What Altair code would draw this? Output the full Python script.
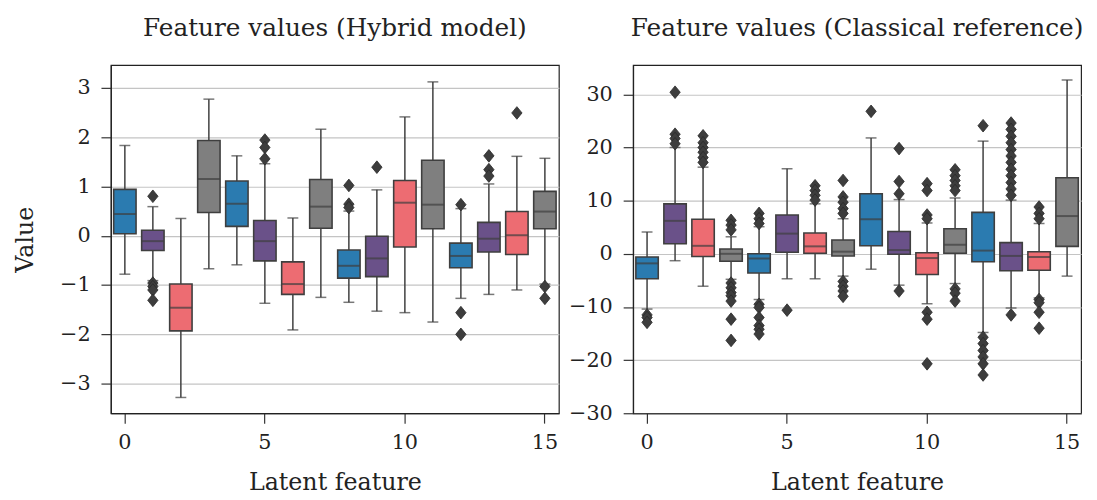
import altair as alt
import pandas as pd

FONT = "DejaVu Serif"
PALETTE = ["#2b7bb0", "#6a5189", "#ed6c72", "#7f7f7f"]
EDGE = "#3f3f3f"

features = list(range(16))

# Hybrid model: lower whisker, q1, median, q3, upper whisker
hyb_lo = [-0.78, -0.91, -3.28, -0.67, -0.59, -1.37, -1.91, -1.25, -1.35, -1.53, -1.56, -1.75, -1.27, -1.19, -1.10, -0.98]
hyb_q1 = [0.04, -0.30, -1.93, 0.47, 0.19, -0.51, -1.19, 0.15, -0.86, -0.83, -0.23, 0.14, -0.65, -0.33, -0.38, 0.14]
hyb_med = [0.44, -0.11, -1.46, 1.15, 0.65, -0.11, -0.98, 0.59, -0.61, -0.46, 0.67, 0.63, -0.41, -0.06, 0.01, 0.49]
hyb_q3 = [0.94, 0.11, -0.98, 1.93, 1.11, 0.31, -0.53, 1.14, -0.29, -0.01, 1.12, 1.53, -0.15, 0.27, 0.49, 0.90]
hyb_hi = [1.83, 0.59, 0.35, 2.77, 1.62, 1.46, 0.36, 2.16, 0.50, 0.93, 2.41, 3.12, 0.55, 1.05, 1.61, 1.57]
hyb_out_feat = [1, 1, 1, 1, 1, 5, 5, 5, 8, 8, 8, 9, 12, 12, 12, 13, 13, 13, 14, 15, 15]
hyb_out_val = [0.80, -0.96, -1.03, -1.10, -1.31, 1.94, 1.79, 1.56, 1.02, 0.64, 0.57, 1.39, 0.63, -1.56, -2.00, 1.62, 1.34, 1.21, 2.49, -1.03, -1.27]

# Classical reference
cls_lo = [-10.4, -1.3, -6.1, -4.8, -8.6, -4.7, -4.7, -4.2, -2.9, -5.9, -9.4, -5.6, -14.8, -10.2, -8.3, -4.2]
cls_q1 = [-4.7, 1.9, -0.5, -1.4, -3.6, 0.3, 0.1, -0.4, 1.5, -0.1, -3.9, 0.1, -1.5, -3.2, -3.1, 1.4]
cls_med = [-1.8, 6.2, 1.5, 0.0, -0.9, 3.8, 1.4, 0.4, 6.5, 0.7, -0.8, 1.7, 0.6, -0.4, -0.6, 7.1]
cls_q3 = [-0.6, 9.4, 6.5, 0.9, 0.0, 7.3, 3.9, 2.6, 11.3, 4.2, 0.2, 4.7, 7.8, 2.1, 0.4, 14.3]
cls_hi = [4.1, 20.0, 16.3, 3.2, 5.1, 16.0, 9.4, 6.6, 21.8, 10.2, 5.8, 10.5, 21.2, 10.1, 5.7, 32.7]
cls_out_feat = ([0] * 3 + [1] * 4 + [2] * 6 + [3] * 10 + [4] * 9 + [5] + [6] * 4 + [7] * 9 + [8] + [9] * 4
                + [10] * 7 + [11] * 8 + [12] * 7 + [13] * 13 + [14] * 7)
cls_out_val = [-11.5, -12.0, -12.9,
               30.4, 22.5, 21.7, 20.7,
               22.2, 20.9, 20.0, 19.1, 18.1, 17.2,
               6.3, 5.4, 4.5, -5.5, -6.4, -7.3, -7.9, -8.9, -12.3, -16.3,
               7.6, 6.6, 5.7, -9.5, -10.1, -12.0, -13.5, -14.2, -15.1,
               -10.6,
               12.8, 11.9, 11.0, 10.1,
               13.8, 10.7, 9.7, 8.5, 7.6, -5.2, -6.1, -7.0, -8.0,
               26.8,
               19.8, 13.6, 11.3, -7.0,
               13.2, 11.9, 7.3, 6.6, -11.0, -12.3, -20.7,
               15.8, 14.7, 13.8, 12.8, 11.9, -6.6, -7.4, -8.9,
               24.1, -15.7, -16.9, -18.2, -19.4, -20.7, -22.8,
               24.6, 23.4, 22.1, 20.9, 19.6, 18.4, 17.2, 15.9, 14.7, 13.4, 12.2, 11.0, -11.5,
               8.8, 7.6, 6.6, -8.6, -9.2, -11.0, -14.0]


def panel(title, lo, q1, med, q3, hi, of, ov, domain, ticks, ytitle):
    box = pd.DataFrame({"feature": features, "lo": lo, "q1": q1, "med": med, "q3": q3, "hi": hi,
                        "color": [PALETTE[i % 4] for i in features]})
    out = pd.DataFrame({"feature": of, "value": ov})
    xenc = alt.X("feature:O", scale=alt.Scale(domain=features, paddingInner=0, paddingOuter=0),
                 axis=alt.Axis(values=[0, 5, 10, 15], labelAngle=0, title="Latent feature",
                               labelPadding=9, titlePadding=18))
    yscale = alt.Scale(domain=domain, nice=False, zero=False)
    yaxis = alt.Axis(values=ticks, title=ytitle, grid=True, labelPadding=11, titlePadding=22)
    base = alt.Chart(box)
    w_lo = base.mark_rule(color=EDGE, strokeWidth=1.5).encode(
        x=xenc, y=alt.Y("lo:Q", scale=yscale, axis=yaxis), y2="q1:Q")
    w_hi = base.mark_rule(color=EDGE, strokeWidth=1.5).encode(x=xenc, y="q3:Q", y2="hi:Q")
    cap_lo = base.mark_tick(color=EDGE, size=11, thickness=1.5).encode(x=xenc, y="lo:Q")
    cap_hi = base.mark_tick(color=EDGE, size=11, thickness=1.5).encode(x=xenc, y="hi:Q")
    bars = base.mark_bar(width=alt.RelativeBandSize(0.8), stroke=EDGE, strokeWidth=1.6).encode(
        x=xenc, y="q1:Q", y2="q3:Q", fill=alt.Fill("color:N", scale=None))
    meds = base.mark_tick(color=EDGE, size=22.6, thickness=2).encode(x=xenc, y="med:Q")
    pts = alt.Chart(out).mark_point(
        shape="M0,-1.1L0.9,0L0,1.1L-0.9,0Z", filled=True, fill="#3d3d3d", stroke="#2a2a2a",
        strokeWidth=0.8, size=135, opacity=1).encode(x=xenc, y="value:Q")
    return alt.layer(w_lo, w_hi, cap_lo, cap_hi, bars, meds, pts).properties(
        width=453, height=352,
        title=alt.TitleParams(title, font=FONT, fontSize=25, fontWeight="normal", color="#222", offset=24))


left = panel("Feature values (Hybrid model)", hyb_lo, hyb_q1, hyb_med, hyb_q3, hyb_hi,
             hyb_out_feat, hyb_out_val, [-3.6, 3.46], [-3, -2, -1, 0, 1, 2, 3], "Value")
right = panel("Feature values (Classical reference)", cls_lo, cls_q1, cls_med, cls_q3, cls_hi,
              cls_out_feat, cls_out_val, [-30, 35.5], [-30, -20, -10, 0, 10, 20, 30], "")

chart = alt.hconcat(left, right, spacing=75, bounds="flush").configure_view(
    stroke="#222", strokeWidth=1.2
).configure_axis(
    labelFont=FONT, titleFont=FONT, labelFontSize=21, titleFontSize=24, titleFontWeight="normal",
    labelColor="#222", titleColor="#222", tickSize=10, tickColor="#333", tickWidth=1.2,
    domainColor="#222", domainWidth=1.2, gridColor="#c4c4c4", gridWidth=1.2
).configure_axisX(grid=False).configure_concat(spacing=75)

chart.save("out.html", embed_options={"renderer": "svg", "actions": False})
